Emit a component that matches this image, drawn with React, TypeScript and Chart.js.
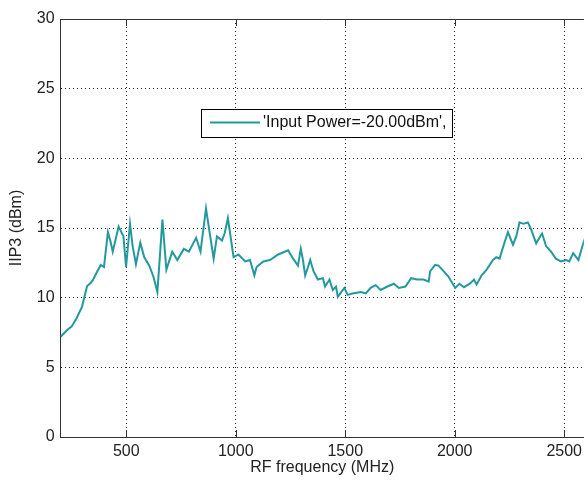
import React, { useEffect, useRef } from 'react';
import { Chart, registerables } from 'chart.js';

Chart.register(...registerables);

const freqMHz = [
  200, 234, 250, 273, 298, 321, 336, 348, 363, 383, 398, 416, 427, 438, 465, 487, 499, 517, 529, 544,
  564, 582, 605, 624, 642, 665, 683, 710, 733, 763, 786, 819, 839, 864, 899, 914, 937, 949, 964, 990,
  1012, 1043, 1065, 1085, 1095, 1126, 1156, 1194, 1239, 1262, 1284, 1297, 1307, 1317, 1330, 1340, 1355, 1375, 1398, 1408,
  1428, 1443, 1458, 1466, 1496, 1511, 1533, 1571, 1594, 1616, 1639, 1662, 1692, 1722, 1745, 1775, 1801, 1828, 1858, 1881,
  1888, 1911, 1926, 1949, 1972, 2002, 2022, 2042, 2069, 2088, 2100, 2123, 2145, 2175, 2190, 2205, 2228, 2243, 2266, 2281,
  2296, 2314, 2334, 2349, 2372, 2387, 2399, 2417, 2440, 2462, 2485, 2508, 2523, 2541, 2565, 2585, 2600,
];

const iip3dBm = [
  7.2, 7.73, 7.92, 8.52, 9.35, 10.84, 11.03, 11.27, 11.75, 12.35, 12.2, 14.7, 14.1, 13.3, 15.1, 14.4, 12.2, 15.3, 13.7, 12.4,
  13.95, 12.9, 12.3, 11.5, 10.4, 15.6, 12.0, 13.3, 12.7, 13.5, 13.3, 14.3, 13.3, 16.4, 12.8, 14.4, 14.1, 14.6, 15.7, 12.9,
  13.1, 12.6, 12.7, 11.6, 12.2, 12.6, 12.7, 13.1, 13.4, 12.8, 12.3, 13.5, 12.7, 11.6, 12.2, 12.7, 11.9, 11.3, 11.4, 10.8,
  11.3, 10.55, 10.8, 10.07, 10.7, 10.2, 10.3, 10.4, 10.3, 10.7, 10.9, 10.55, 10.8, 11.0, 10.7, 10.8, 11.4, 11.3, 11.3, 11.15,
  11.9, 12.35, 12.3, 11.9, 11.5, 10.7, 11.0, 10.75, 11.0, 11.3, 10.95, 11.6, 12.0, 12.7, 12.9, 12.8, 14.0, 14.7, 13.8, 14.4,
  15.4, 15.3, 15.4, 14.9, 13.9, 14.3, 14.6, 13.7, 13.3, 12.8, 12.6, 12.7, 12.6, 13.2, 12.7, 13.8, 14.5,
];

const xTicks = [500, 1000, 1500, 2000, 2500];
const yTicks = [0, 5, 10, 15, 20, 25, 30];
const seriesLabel = "'Input Power=-20.00dBm',";
const xTitle = 'RF frequency (MHz)';
const yTitle = 'IIP3 (dBm)';

const FONT = '"Liberation Sans", Arial, Helvetica, sans-serif';
const LINE_COLOR = '#23999e';
const AXIS_COLOR = '#333333';

const framePlugin = {
  id: 'frameAndLegend',
  afterDatasetsDraw(chart: any) {
    const { ctx, chartArea } = chart;
    const { left, right, top, bottom } = chartArea;
    const xs = chart.scales.x;
    ctx.save();
    ctx.strokeStyle = AXIS_COLOR;
    ctx.lineWidth = 1;
    ctx.setLineDash([]);
    // top frame
    ctx.beginPath();
    ctx.moveTo(left, Math.round(top) + 0.5);
    ctx.lineTo(right, Math.round(top) + 0.5);
    ctx.stroke();
    // inward tick marks for x
    xTicks.forEach((v) => {
      const px = Math.round(xs.getPixelForValue(v)) + 0.5;
      ctx.beginPath();
      ctx.moveTo(px, bottom);
      ctx.lineTo(px, bottom - 7);
      ctx.moveTo(px, top);
      ctx.lineTo(px, top + 7);
      ctx.stroke();
    });
    ctx.restore();
  },
  afterDraw(chart: any) {
    const { ctx } = chart;
    const ds = chart.data.datasets[0];
    const bx = 201.5, by = 109.5, bw = 251, bh = 28;
    ctx.save();
    ctx.fillStyle = '#ffffff';
    ctx.fillRect(bx, by, bw, bh);
    ctx.strokeStyle = '#000000';
    ctx.lineWidth = 1;
    ctx.setLineDash([]);
    ctx.strokeRect(bx, by, bw, bh);
    ctx.strokeStyle = ds.borderColor;
    ctx.lineWidth = 2;
    ctx.beginPath();
    ctx.moveTo(210, 122.5);
    ctx.lineTo(260, 122.5);
    ctx.stroke();
    ctx.fillStyle = '#111111';
    ctx.font = '16px ' + FONT;
    ctx.textBaseline = 'middle';
    ctx.textAlign = 'left';
    ctx.fillText(ds.label, 263, 123);
    ctx.restore();
  },
};

export default function App() {
  const canvasRef = useRef<HTMLCanvasElement | null>(null);

  useEffect(() => {
    const canvas = canvasRef.current;
    if (!canvas) return;
    const chart = new Chart(canvas, {
      type: 'line',
      data: {
        datasets: [
          {
            label: seriesLabel,
            data: freqMHz.map((f, i) => ({ x: f, y: iip3dBm[i] })),
            borderColor: LINE_COLOR,
            backgroundColor: LINE_COLOR,
            borderWidth: 2,
            pointRadius: 0,
            tension: 0,
            fill: false,
          },
        ],
      },
      options: {
        responsive: false,
        maintainAspectRatio: false,
        animation: false,
        devicePixelRatio: 1,
        layout: { padding: { top: 19, right: 0, bottom: 0, left: 0 } },
        plugins: {
          legend: { display: false },
          tooltip: { enabled: false },
        },
        scales: {
          x: {
            type: 'linear',
            min: 200,
            max: 2590,
            afterBuildTicks: (s: any) => {
              s.ticks = xTicks.map((v) => ({ value: v }));
            },
            afterFit: (s: any) => {
              s.height = 44;
            },
            ticks: {
              autoSkip: false,
              maxRotation: 0,
              padding: 5,
              color: '#222',
              font: { family: FONT, size: 16 },
              callback: (v: any) => String(v),
            },
            grid: { color: '#222', lineWidth: 1, drawTicks: false },
            border: { display: true, color: AXIS_COLOR, width: 1, dash: [1, 3] },
            title: {
              display: true,
              text: xTitle,
              color: '#222',
              font: { family: FONT, size: 16 },
              padding: { top: 0, bottom: 4 },
            },
          },
          y: {
            type: 'linear',
            min: 0,
            max: 30,
            afterBuildTicks: (s: any) => {
              s.ticks = yTicks.map((v) => ({ value: v }));
            },
            afterFit: (s: any) => {
              s.width = 60.6;
            },
            ticks: {
              autoSkip: false,
              padding: 6,
              color: '#222',
              font: { family: FONT, size: 16 },
              callback: (v: any) => String(v),
            },
            grid: { color: '#222', lineWidth: 1, drawTicks: false },
            border: { display: true, color: AXIS_COLOR, width: 1, dash: [1, 3] },
            title: {
              display: true,
              text: yTitle,
              color: '#222',
              font: { family: FONT, size: 16 },
              padding: { top: 7, bottom: 0 },
            },
          },
        },
      },
      plugins: [framePlugin],
    } as any);
    return () => chart.destroy();
  }, []);

  return (
    <div style={{ position: 'absolute', left: 0, top: 0, width: 587, height: 481, background: '#ffffff' }}>
      <canvas ref={canvasRef} width={587} height={481} style={{ display: 'block' }} />
    </div>
  );
}
